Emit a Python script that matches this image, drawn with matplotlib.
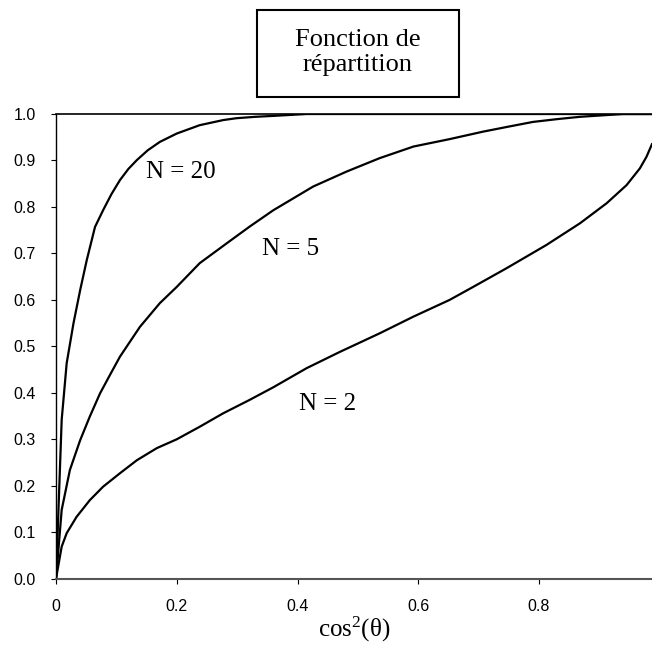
import matplotlib.pyplot as plt
from matplotlib.patches import Rectangle

plt.rcParams['mathtext.fontset'] = 'custom'
plt.rcParams['mathtext.rm'] = 'Liberation Serif'
plt.rcParams['mathtext.it'] = 'Liberation Serif'

# values (x = cos^2(theta), y = cumulative fraction)
x20 = [0, 0.0094, 0.0177, 0.029, 0.040, 0.051, 0.0646, 0.078, 0.092, 0.106,
       0.120, 0.134, 0.152, 0.172, 0.2, 0.238, 0.277, 0.299, 0.33, 0.36,
       0.415, 0.6, 0.8, 0.987]
y20 = [0, 0.342, 0.464, 0.55, 0.621, 0.686, 0.757, 0.793, 0.828, 0.858,
       0.882, 0.901, 0.922, 0.940, 0.958, 0.976, 0.987, 0.991, 0.994, 0.996,
       1.0, 1.0, 1.0, 1.0]

x5 = [0, 0.0094, 0.023, 0.040, 0.056, 0.073, 0.09, 0.106, 0.139, 0.172, 0.2,
      0.238, 0.283, 0.321, 0.36, 0.426, 0.481, 0.536, 0.592, 0.652, 0.707,
      0.750, 0.790, 0.830, 0.868, 0.939, 0.987]
y5 = [0, 0.148, 0.234, 0.298, 0.349, 0.399, 0.440, 0.478, 0.542, 0.593, 0.628,
      0.679, 0.722, 0.758, 0.793, 0.844, 0.876, 0.905, 0.930, 0.946, 0.962,
      0.973, 0.983, 0.989, 0.994, 1.0, 1.0]

x2 = [0, 0.0094, 0.0177, 0.034, 0.056, 0.078, 0.106, 0.134, 0.167, 0.2, 0.238,
      0.277, 0.321, 0.36, 0.415, 0.470, 0.536, 0.592, 0.652, 0.691, 0.746,
      0.812, 0.868, 0.912, 0.945, 0.967, 0.978, 0.987]
y2 = [0, 0.069, 0.098, 0.133, 0.169, 0.198, 0.227, 0.255, 0.281, 0.300, 0.327,
      0.356, 0.385, 0.412, 0.453, 0.488, 0.528, 0.564, 0.600, 0.628, 0.668,
      0.718, 0.765, 0.808, 0.847, 0.883, 0.908, 0.935]

labels = ['N = 20', 'N = 5', 'N = 2']
label_pos = [(0.207, 0.876), (0.389, 0.709), (0.449, 0.376)]

fig = plt.figure(figsize=(6.52, 6.46), dpi=100)
ax = fig.add_axes([0.0859, 0.1042, 0.914, 0.7193])

for xs, ys in [(x20, y20), (x5, y5), (x2, y2)]:
    ax.plot(xs, ys, color='black', lw=1.6)

for lab, (lx, ly) in zip(labels, label_pos):
    ax.text(lx, ly, lab, ha='center', va='center', fontsize=18,
            family='Liberation Serif')

ax.set_xlim(0, 0.987)
ax.set_ylim(0, 1.0)
ax.set_xticks([0, 0.2, 0.4, 0.6, 0.8])
ax.set_xticklabels(['0', '0.2', '0.4', '0.6', '0.8'])
ax.set_yticks([i / 10 for i in range(11)])
ax.set_yticklabels(['%.1f' % (i / 10) for i in range(11)])
ax.tick_params(direction='out', length=3.6, width=0.8, pad=11,
               labelsize=11.5, labelfontfamily='Liberation Sans')

ax.spines['right'].set_visible(False)
ax.spines['top'].set_linewidth(1.2)
ax.spines['left'].set_linewidth(1.0)
ax.spines['bottom'].set_color('#555555')
ax.spines['bottom'].set_linewidth(1.5)

ax.set_xlabel(r'cos$^{2}$(θ)', fontsize=18, family='Liberation Serif', labelpad=1)

# title box
fig.patches.append(Rectangle((0.394, 0.850), 0.3105, 0.1345, transform=fig.transFigure,
                             fc='white', ec='black', lw=1.5))
fig.text(0.549, 0.919, 'Fonction de\nrépartition', ha='center', va='center',
         fontsize=19, family='Liberation Serif', linespacing=1.2)

fig.savefig('out.png', dpi=100)
